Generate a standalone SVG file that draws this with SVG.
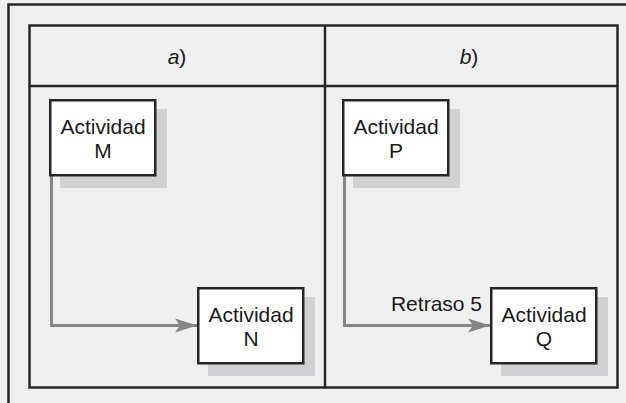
<svg xmlns="http://www.w3.org/2000/svg" width="626" height="403" viewBox="0 0 626 403">
<defs>
<style>
.frame{fill:none;stroke:#262626;stroke-width:2.5}
.box{fill:#ffffff;stroke:#262626;stroke-width:2.5}
.shadow{fill:#d1d1d3}
.lbl{font-family:"Liberation Sans",Arial,sans-serif;font-size:21px;fill:#1a1a1a;text-anchor:middle}
.conn{fill:none;stroke:#858585;stroke-width:3}
</style>
<marker id="arr" markerUnits="userSpaceOnUse" markerWidth="26" markerHeight="18" refX="24" refY="8" orient="auto">
<path d="M24,8 L2,1 L7,8 L2,15 Z" fill="#858585"/>
</marker>
</defs>
<rect x="0" y="0" width="626" height="403" fill="#efefef"/>
<g id="outer-frame">
<path class="frame" d="M8.5,403 V4.5 H626"/>
</g>
<g id="table">
<rect class="frame" x="29.5" y="25.5" width="588" height="362"/>
<line class="frame" x1="29.5" y1="86" x2="617.5" y2="86"/>
<line class="frame" x1="325" y1="25.5" x2="325" y2="387.5"/>
<text class="lbl" x="177" y="64" font-size="20"><tspan font-style="italic">a</tspan>)</text>
<text class="lbl" x="469" y="64" font-size="20"><tspan font-style="italic">b</tspan>)</text>
</g>
<g id="connectors">
<path class="conn" d="M51.5,176 V325.5 H197" marker-end="url(#arr)"/>
<path class="conn" d="M344.5,176 V325.5 H490" marker-end="url(#arr)"/>
<text class="lbl" x="482" y="311" style="text-anchor:end">Retraso 5</text>
</g>
<g id="node-m">
<rect class="shadow" x="60" y="109" width="107" height="79"/>
<rect class="box" x="50.25" y="100.25" width="105" height="75"/>
<text class="lbl" x="103" y="134">Actividad</text>
<text class="lbl" x="103" y="158">M</text>
</g>
<g id="node-n">
<rect class="shadow" x="208" y="297" width="107" height="79"/>
<rect class="box" x="198.25" y="288.25" width="105" height="75"/>
<text class="lbl" x="251" y="322">Actividad</text>
<text class="lbl" x="251" y="346">N</text>
</g>
<g id="node-p">
<rect class="shadow" x="353" y="109" width="107" height="79"/>
<rect class="box" x="343.25" y="100.25" width="105" height="75"/>
<text class="lbl" x="396" y="134">Actividad</text>
<text class="lbl" x="396" y="158">P</text>
</g>
<g id="node-q">
<rect class="shadow" x="501" y="297" width="107" height="79"/>
<rect class="box" x="491.25" y="288.25" width="105" height="75"/>
<text class="lbl" x="544" y="322">Actividad</text>
<text class="lbl" x="544" y="346">Q</text>
</g>
</svg>
